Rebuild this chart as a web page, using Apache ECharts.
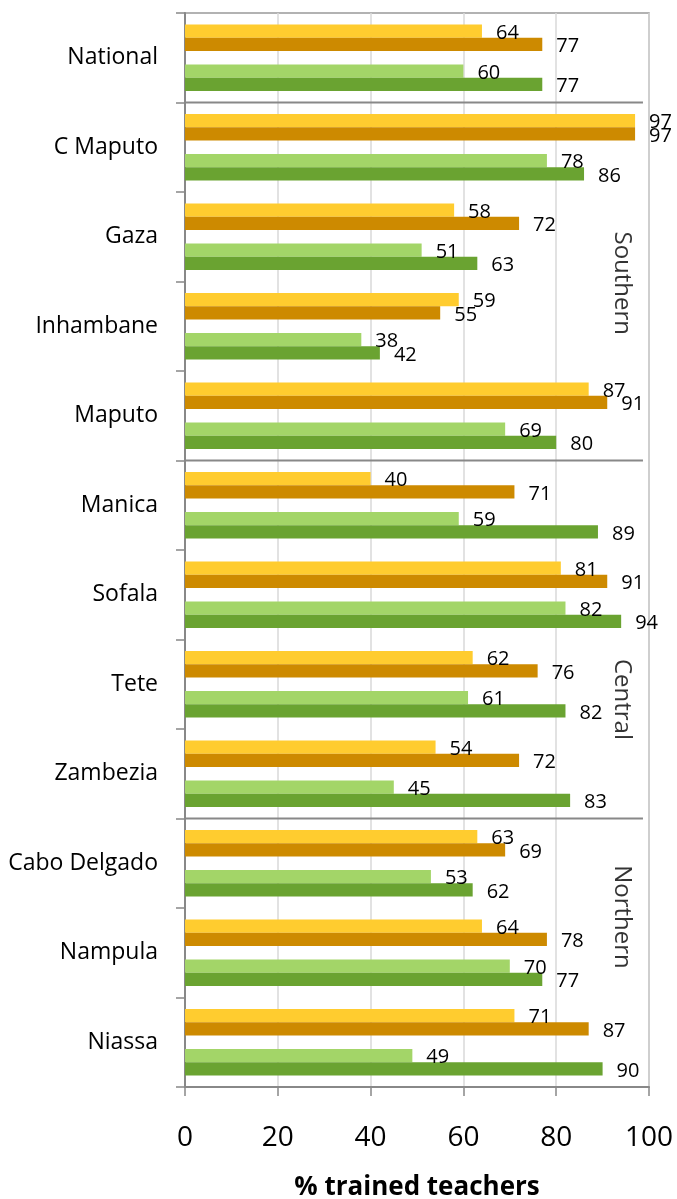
<!DOCTYPE html>
<html>
<head>
<meta charset="utf-8">
<script src="https://cdn.jsdelivr.net/npm/echarts@6/dist/echarts.min.js"></script>
<style>
html,body{margin:0;padding:0;background:#fff;}
#chart{width:677px;height:1199px;}
</style>
</head>
<body>
<div id="chart"></div>
<script>
// ---- data ----
const categories = ['National','C Maputo','Gaza','Inhambane','Maputo','Manica','Sofala','Tete','Zambezia','Cabo Delgado','Nampula','Niassa'];
const seriesYellow     = [64, 97, 58, 59, 87, 40, 81, 62, 54, 63, 64, 71];
const seriesOrange     = [77, 97, 72, 55, 91, 71, 91, 76, 72, 69, 78, 87];
const seriesLightGreen = [60, 78, 51, 38, 69, 59, 82, 61, 45, 53, 70, 49];
const seriesDarkGreen  = [77, 86, 63, 42, 80, 89, 94, 82, 83, 62, 77, 90];
const groupNames = ['Southern', 'Central', 'Northern'];
const groupStart = [1, 5, 9];
const groupEnd   = [4, 8, 11];
const xTicks = [0, 20, 40, 60, 80, 100];
const xTitle = '% trained teachers';

// ---- styling / layout ----
const FONT = 'Open Sans';
const groupLabelShift = [0.02, 0.67, -0.4];
const groupLabelX = 94.2;
const sepX0 = -2.2, sepX1 = 98.7;

const sepSeries = groupStart.map(function (s, i) {
  const b = s - 0.5;
  return {
    name: 'separator ' + (i + 1), type: 'line', xAxisIndex: 0, yAxisIndex: 1,
    data: [[sepX0, b], [sepX1, b]],
    symbol: 'none', clip: false, silent: true,
    lineStyle: { color: '#888', width: 2 }
  };
});
const groupLabelData = groupNames.map(function (n, i) {
  return [groupLabelX, (groupStart[i] + groupEnd[i]) / 2 + groupLabelShift[i], n];
});

function barSeries(name, data, color) {
  return {
    name: name, type: 'bar', data: data, barGap: '0%', barCategoryGap: '25.7%',
    itemStyle: { color: color },
    label: { show: true, position: 'right', distance: 14, offset: [0, 2],
      fontFamily: FONT, fontSize: 20, color: '#000' }
  };
}
const spacer = categories.map(function () { return null; });

const chart = echarts.init(document.getElementById('chart'), null, { renderer: 'canvas' });
chart.setOption({
  animation: false,
  backgroundColor: '#fff',
  grid: { left: 185, right: 28, top: 13, bottom: 112, containLabel: false, outerBoundsMode: 'none',
    show: true, borderColor: '#999', borderWidth: 1.5, backgroundColor: 'transparent' },
  xAxis: [{
    type: 'value', min: xTicks[0], max: xTicks[xTicks.length - 1], interval: xTicks[1] - xTicks[0],
    axisLine: { show: true, onZero: false, lineStyle: { color: '#888', width: 2 } },
    axisTick: { show: true, length: 9, lineStyle: { color: '#888', width: 1.5 } },
    splitLine: { show: true, lineStyle: { color: '#d9d9d9', width: 1.5 } },
    axisLabel: { fontFamily: FONT, fontSize: 28, color: '#000', margin: 37 },
    name: xTitle, nameLocation: 'middle', nameGap: 88,
    nameTextStyle: { fontFamily: FONT, fontSize: 26, fontWeight: 'bold', color: '#000' }
  }],
  yAxis: [{
    type: 'category', data: categories, inverse: true,
    axisLine: { show: true, onZero: false, lineStyle: { color: '#888', width: 2 } },
    axisTick: { show: true, length: 9, interval: 0, lineStyle: { color: '#888', width: 1.5 } },
    splitLine: { show: false },
    axisLabel: { fontFamily: FONT, fontSize: 23, color: '#000', margin: 27, interval: 0 }
  }, {
    type: 'value', min: -0.5, max: categories.length - 0.5, inverse: true, show: false,
    axisLine: { show: false, onZero: false },
    splitLine: { show: false }
  }],
  series: [
    barSeries('Series 1', seriesYellow, '#FFCC2F'),
    barSeries('Series 2', seriesOrange, '#CD8A00'),
    { name: 'gap', type: 'bar', data: spacer, barGap: '0%', barCategoryGap: '25.7%', silent: true },
    barSeries('Series 3', seriesLightGreen, '#A3D568'),
    barSeries('Series 4', seriesDarkGreen, '#6AA331')
  ].concat(sepSeries, [{
      name: 'groups', type: 'scatter', xAxisIndex: 0, yAxisIndex: 1, data: groupLabelData,
      symbolSize: 0, silent: true,
      label: { show: true, position: 'inside', rotate: -90, fontFamily: FONT, fontSize: 24, color: '#000',
        formatter: function (p) { return p.data[2]; } }
  }])
});
</script>
</body>
</html>
